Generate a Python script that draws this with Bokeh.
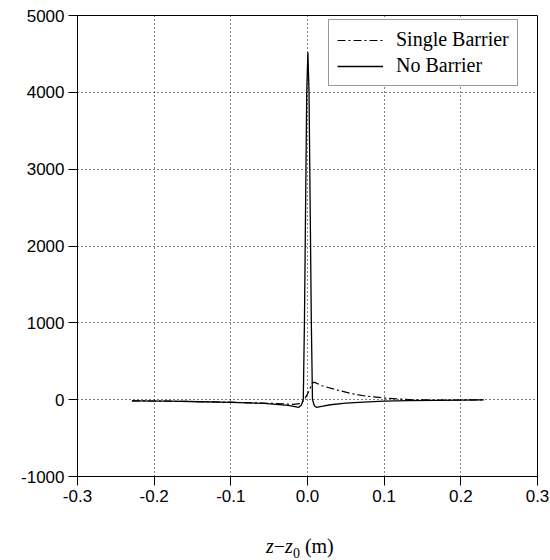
from bokeh.plotting import figure
from bokeh.models import Range1d, FixedTicker, PrintfTickFormatter, Legend, LegendItem, Div
from bokeh.layouts import column
from bokeh.embed import file_html
from bokeh.resources import INLINE

# ---- data ----
single_x = [-0.229, -0.18, -0.14, -0.10, -0.057, -0.03, -0.018, -0.008, -0.003, 0.0017,
            0.006, 0.0085, 0.019, 0.039, 0.055, 0.073, 0.10, 0.12, 0.139, 0.18, 0.23]
single_y = [-15, -20, -25, -33, -45, -55, -62, -50, 20, 107,
            212, 228, 181, 125, 85, 51, 21, 8, -3, -5, -3]

none_x = [-0.229, -0.18, -0.14, -0.10, -0.057, -0.025, -0.0113, -0.008, -0.0055, -0.004,
          -0.0025, -0.001, 0.0005, 0.002, 0.0035, 0.005, 0.0065, 0.009, 0.0117,
          0.02, 0.03, 0.05, 0.073, 0.10, 0.13, 0.17, 0.23]
none_y = [-15, -20, -27, -35, -49, -75, -100, -70, 0, 1000,
          2500, 4000, 4520, 4000, 2500, 1000, 0, -80, -100,
          -85, -66, -45, -31, -20, -13, -8, -3]

x_ticks = [-0.3, -0.2, -0.1, 0.0, 0.1, 0.2, 0.3]
y_ticks = [-1000, 0, 1000, 2000, 3000, 4000, 5000]
series_names = ["Single Barrier", "No Barrier"]

p = figure(width=550, height=530, output_backend="svg", toolbar_location=None,
           x_range=Range1d(-0.3, 0.3), y_range=Range1d(-1000, 5000),
           min_border_left=77, min_border_right=13, min_border_top=15, min_border_bottom=54,
           background_fill_color="white", border_fill_color="white")

p.outline_line_color = "black"
p.outline_line_width = 1

for ax in (p.xaxis[0], p.yaxis[0]):
    ax.axis_line_color = "black"
    ax.major_tick_line_color = "black"
    ax.major_tick_out = 9
    ax.major_tick_in = 0
    ax.minor_tick_line_color = None
    ax.major_label_text_font = "Liberation Sans"
    ax.major_label_text_font_size = "17px"
    ax.major_label_text_color = "black"
    ax.major_label_standoff = 4

p.xaxis[0].ticker = FixedTicker(ticks=x_ticks)
p.yaxis[0].ticker = FixedTicker(ticks=y_ticks)
p.xaxis[0].formatter = PrintfTickFormatter(format="%.1f")
p.yaxis[0].formatter = PrintfTickFormatter(format="%d")

for g in (p.xgrid[0], p.ygrid[0]):
    g.grid_line_color = "black"
    g.grid_line_dash = "1 3"
    g.grid_line_width = 1

r1 = p.line(single_x, single_y, line_color="black", line_width=1.2, line_dash="8 3 2 3")
r2 = p.line(none_x, none_y, line_color="black", line_width=1.3)

legend = Legend(items=[LegendItem(label=series_names[0], renderers=[r1]),
                       LegendItem(label=series_names[1], renderers=[r2])],
                location=(251, 390))
legend.label_text_font = "Liberation Serif"
legend.label_text_font_size = "20px"
legend.label_text_color = "black"
legend.glyph_width = 46
legend.glyph_height = 20
legend.label_height = 20
legend.label_standoff = 13
legend.padding = 8
legend.spacing = 3
legend.border_line_color = "#333333"
legend.border_line_width = 1
legend.background_fill_alpha = 1
p.add_layout(legend)

# x-axis label: z - z_0 (m), with italic z and subscript 0
xlabel = Div(
    text=('<div style="margin-left:266px; padding-top:6px; font-family:\'Liberation Serif\'; '
          'font-size:20px; line-height:20px; color:black; white-space:nowrap;">'
          '<i>z</i>\u2212<i>z</i><sub style="font-size:14px;">0</sub> (m)</div>'),
    width=550, height=30, margin=0)

layout = column(p, xlabel, spacing=0)
open("out.html", "w").write(file_html(layout, INLINE))
